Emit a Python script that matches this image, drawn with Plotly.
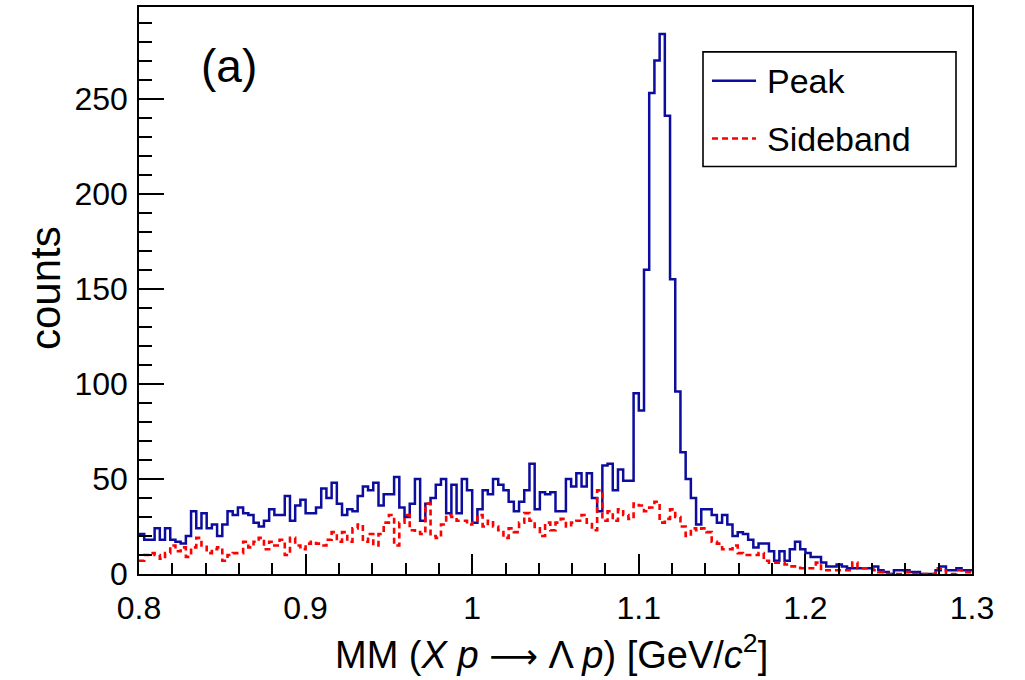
import numpy as np
import plotly.graph_objects as go

# Histogram binning
x_min = 0.8
x_max = 1.3
n_bins = 160

peak_counts = [
    21, 18, 18, 24, 18, 24, 18, 17, 16, 20,
    33, 24, 32, 24, 26, 20, 26, 33, 31, 35,
    32, 31, 27, 25, 28, 34, 31, 31, 41, 28,
    36, 39, 32, 32, 35, 45, 40, 48, 37, 31,
    34, 33, 41, 46, 44, 48, 36, 42, 42, 51,
    35, 30, 37, 50, 28, 37, 40, 47, 50, 32,
    47, 32, 50, 44, 27, 34, 44, 42, 50, 47,
    44, 38, 33, 38, 44, 58, 34, 43, 42, 43,
    33, 33, 50, 46, 53, 46, 53, 40, 33, 57,
    58, 44, 55, 49, 49, 95, 86, 160, 253, 270,
    284, 241, 155, 96, 64, 50, 40, 26, 34, 34,
    31, 27, 31, 26, 20, 22, 21, 18, 14, 16,
    16, 12, 7, 12, 7, 13, 17, 13, 11, 9,
    9, 6, 4, 4, 5, 4, 3, 3, 3, 3,
    3, 4, 2, 1, 0, 2, 2, 2, 1, 1,
    0, 0, 0, 2, 4, 2, 2, 3, 2, 2,
]

sideband_counts = [
    7, 10, 11, 10, 8, 11, 15, 12, 14, 9,
    14, 19, 15, 11, 13, 14, 7, 10, 11, 11,
    17, 14, 17, 19, 13, 17, 15, 18, 10, 19,
    15, 13, 16, 17, 16, 15, 18, 22, 17, 22,
    17, 24, 26, 17, 21, 15, 21, 27, 31, 15,
    27, 31, 23, 22, 21, 37, 20, 19, 26, 31,
    30, 28, 28, 26, 27, 31, 25, 28, 25, 23,
    19, 24, 22, 27, 32, 28, 24, 20, 27, 23,
    27, 29, 25, 27, 28, 31, 27, 23, 44, 28,
    33, 28, 34, 31, 29, 37, 36, 33, 35, 38,
    27, 29, 34, 30, 25, 20, 24, 23, 24, 22,
    17, 16, 13, 13, 15, 11, 10, 10, 10, 11,
    7, 6, 6, 6, 5, 4, 4, 3, 3, 3,
    6, 2, 2, 2, 2, 2, 2, 6, 3, 3,
    3, 2, 1, 0, 0, 0, 0, 1, 0, 0,
    0, 0, 0, 3, 2, 0, 0, 2, 1, 1,
]

series_names = ["Peak", "Sideband"]
x_ticks = [0.8, 0.9, 1.0, 1.1, 1.2, 1.3]
x_tick_text = ["0.8", "0.9", "1", "1.1", "1.2", "1.3"]
y_ticks = [0, 50, 100, 150, 200, 250]

edges = np.linspace(x_min, x_max, n_bins + 1)


def step_xy(vals):
    xs = list(edges)
    ys = list(vals) + [vals[-1]]
    return xs, ys


FONT = "Liberation Sans, Arial, Helvetica, sans-serif"
BLUE = "#0c0c9e"
RED = "#ff0000"
RED_DASH = "6px,4px"

fig = go.Figure()
px, py = step_xy(peak_counts)
fig.add_trace(go.Scatter(x=px, y=py, mode="lines", line_shape="hv",
                         line=dict(color=BLUE, width=2.5), name=series_names[0],
                         showlegend=False))
sx, sy = step_xy(sideband_counts)
fig.add_trace(go.Scatter(x=sx, y=sy, mode="lines", line_shape="hv",
                         line=dict(color=RED, width=2.6, dash=RED_DASH),
                         name=series_names[1], showlegend=False))

L, R, T, B = 139, 53, 5, 106
W, H = 1025, 680
pw, ph = W - L - R, H - T - B


def pxx(x):
    return (x - L) / pw


def pyy(y):
    return (H - B - y) / ph


ymax = 1.05 * max(peak_counts)

fig.update_layout(
    width=W, height=H,
    margin=dict(l=L, r=R, t=T, b=B, pad=0),
    paper_bgcolor="white", plot_bgcolor="white",
    font=dict(family=FONT, color="black"),
    xaxis=dict(range=[x_min, x_max], tickvals=x_ticks, ticktext=x_tick_text,
               ticks="inside", ticklen=20, tickwidth=1.5, tickcolor="black",
               minor=dict(dtick=0.02, tick0=0.8, ticks="inside", ticklen=11,
                          tickwidth=1.5, tickcolor="black"),
               showline=True, linecolor="black", linewidth=1.6, mirror=True,
               showgrid=False, zeroline=False,
               tickfont=dict(size=32, family=FONT), ticklabelstandoff=5),
    yaxis=dict(range=[0, ymax], tickvals=y_ticks,
               ticks="inside", ticklen=25, tickwidth=1.5, tickcolor="black",
               minor=dict(dtick=10, tick0=0, ticks="inside", ticklen=13,
                          tickwidth=1.5, tickcolor="black"),
               showline=True, linecolor="black", linewidth=1.6, mirror=True,
               showgrid=False, zeroline=False,
               tickfont=dict(size=32, family=FONT), ticklabelstandoff=3),
)

# axis titles
xtitle = ("MM (<i>X</i> <i>p</i> "
          "<span style='font-family:DejaVu Sans;font-size:34px'>⟶</span>"
          " Λ <i>p</i>) [GeV/<i>c</i><sup>2</sup>]")
fig.add_annotation(xref="paper", yref="paper", x=pxx(551), y=pyy(652),
                   text=xtitle,
                   showarrow=False, font=dict(size=38, family=FONT),
                   xanchor="center", yanchor="middle")
fig.add_annotation(xref="paper", yref="paper", x=pxx(45), y=pyy(287),
                   text="counts", textangle=-90,
                   showarrow=False, font=dict(size=42, family=FONT),
                   xanchor="center", yanchor="middle")
fig.add_annotation(xref="paper", yref="paper", x=pxx(229), y=pyy(64),
                   text="(a)", showarrow=False,
                   font=dict(size=46, family=FONT),
                   xanchor="center", yanchor="middle")

# legend box
fig.add_shape(type="rect", xref="paper", yref="paper",
              x0=pxx(703), x1=pxx(956), y0=pyy(165), y1=pyy(50),
              line=dict(color="black", width=1.6), fillcolor="white")
fig.add_shape(type="line", xref="paper", yref="paper",
              x0=pxx(712), x1=pxx(756), y0=pyy(79), y1=pyy(79),
              line=dict(color=BLUE, width=2.5))
fig.add_shape(type="line", xref="paper", yref="paper",
              x0=pxx(712), x1=pxx(756), y0=pyy(137), y1=pyy(137),
              line=dict(color=RED, width=2.6, dash=RED_DASH))
fig.add_annotation(xref="paper", yref="paper", x=pxx(765), y=pyy(79),
                   text=series_names[0], showarrow=False,
                   font=dict(size=34, family=FONT), xanchor="left", yanchor="middle")
fig.add_annotation(xref="paper", yref="paper", x=pxx(765), y=pyy(137),
                   text=series_names[1], showarrow=False,
                   font=dict(size=34, family=FONT), xanchor="left", yanchor="middle")

fig.write_html("out.html")
